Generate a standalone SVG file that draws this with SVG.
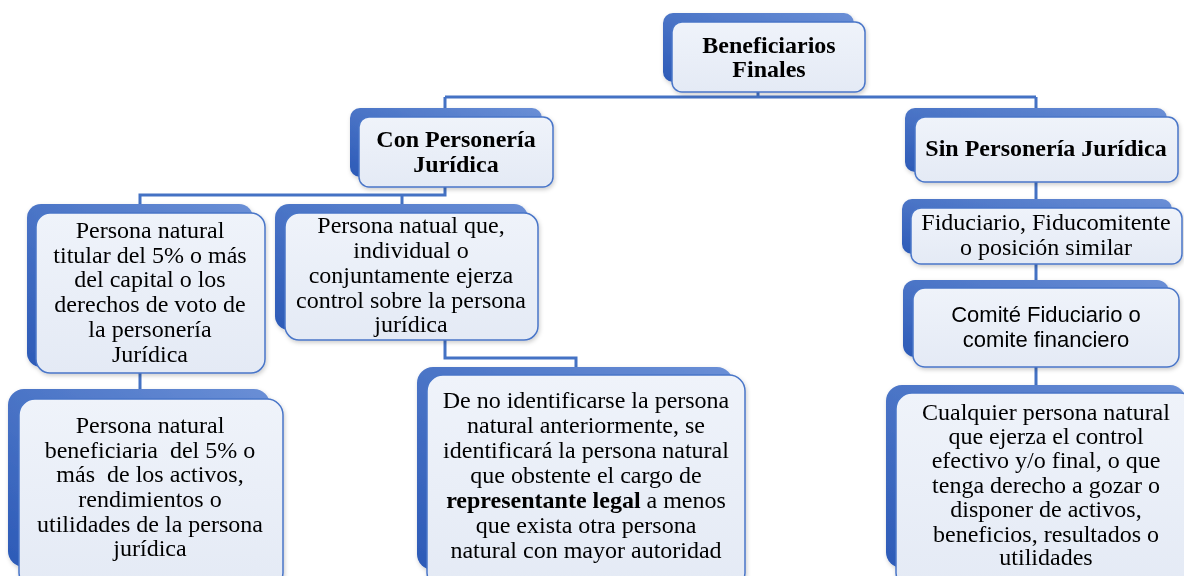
<svg xmlns="http://www.w3.org/2000/svg" width="1184" height="576" viewBox="0 0 1184 576">
<defs>
<linearGradient id="gBack" x1="1" y1="0" x2="0" y2="1">
<stop offset="0" stop-color="#6A8FD6"/>
<stop offset="1" stop-color="#2C5AB7"/>
</linearGradient>
<linearGradient id="gFront" x1="0" y1="0" x2="0" y2="1">
<stop offset="0" stop-color="#EFF3FA"/>
<stop offset="1" stop-color="#E4EAF5"/>
</linearGradient>
<filter id="sh" x="-10%" y="-10%" width="120%" height="130%">
<feDropShadow dx="1" dy="2" stdDeviation="2" flood-color="#000" flood-opacity="0.2"/>
</filter>
</defs>
<style>
.back{fill:url(#gBack);}
.front{fill:url(#gFront);stroke:#4A76C8;stroke-width:1.5;}
.conn{fill:none;stroke:#4472C4;stroke-width:3;}
.t{font-family:"Liberation Serif","Times New Roman",serif;font-size:24px;fill:#000;text-anchor:middle;}
.b{font-weight:bold;}
.s{font-family:"Liberation Sans",Arial,sans-serif;font-size:22px;fill:#000;text-anchor:middle;}
</style>
<rect width="1184" height="576" fill="#FFFFFF"/>
<g id="connectors">
<path class="conn" d="M758 90 V97 M445 97 H1036 M445 97 V110 M1036 97 V395"/>
<path class="conn" d="M445 185 V195 H140 V395 M402 195 V206"/>
<path class="conn" d="M445 338 V358 H576 V369"/>
</g>
<g id="n-beneficiarios" filter="url(#sh)">
<rect class="back" x="663" y="13" width="191" height="69" rx="10"/>
<rect class="front" x="672" y="22" width="193" height="70" rx="10"/>
<text class="t b" x="769" y="53">Beneficiarios</text>
<text class="t b" x="769" y="77">Finales</text>
</g>
<g id="n-con" filter="url(#sh)">
<rect class="back" x="350" y="108" width="192" height="69" rx="10"/>
<rect class="front" x="359" y="117" width="194" height="70" rx="10"/>
<text class="t b" x="456" y="147">Con Personería</text>
<text class="t b" x="456" y="172">Jurídica</text>
</g>
<g id="n-sin" filter="url(#sh)">
<rect class="back" x="905" y="108" width="262" height="64" rx="10"/>
<rect class="front" x="915" y="117" width="263" height="65" rx="10"/>
<text class="t b" x="1046" y="156">Sin Personería Jurídica</text>
</g>
<g id="n-titular" filter="url(#sh)">
<rect class="back" x="27" y="204" width="226" height="163" rx="14"/>
<rect class="front" x="36" y="213" width="229" height="160" rx="14"/>
<text class="t" x="150" y="238">Persona natural</text>
<text class="t" x="150" y="262.5">titular del 5% o más</text>
<text class="t" x="150" y="287">del capital o los</text>
<text class="t" x="150" y="312">derechos de voto de</text>
<text class="t" x="150" y="337">la personería</text>
<text class="t" x="150" y="362">Jurídica</text>
</g>
<g id="n-control" filter="url(#sh)">
<rect class="back" x="275" y="204" width="253" height="126" rx="14"/>
<rect class="front" x="285" y="213" width="253" height="127" rx="14"/>
<text class="t" x="411" y="233">Persona natual que,</text>
<text class="t" x="411" y="258">individual o</text>
<text class="t" x="411" y="282.5">conjuntamente ejerza</text>
<text class="t" x="411" y="307.5">control sobre la persona</text>
<text class="t" x="411" y="332">jurídica</text>
</g>
<g id="n-beneficiaria" filter="url(#sh)">
<rect class="back" x="8" y="389" width="262" height="178" rx="16"/>
<rect class="front" x="19" y="399" width="264" height="190" rx="16"/>
<text class="t" x="150" y="433" xml:space="preserve">Persona natural</text>
<text class="t" x="150" y="457.5" xml:space="preserve">beneficiaria  del 5% o</text>
<text class="t" x="150" y="482" xml:space="preserve">más  de los activos,</text>
<text class="t" x="150" y="507" xml:space="preserve">rendimientos o</text>
<text class="t" x="150" y="532" xml:space="preserve">utilidades de la persona</text>
<text class="t" x="150" y="556" xml:space="preserve">jurídica</text>
</g>
<g id="n-representante" filter="url(#sh)">
<rect class="back" x="417" y="367" width="316" height="203" rx="16"/>
<rect class="front" x="427" y="375" width="318" height="214" rx="16"/>
<text class="t" x="586" y="408">De no identificarse la persona</text>
<text class="t" x="586" y="433">natural anteriormente, se</text>
<text class="t" x="586" y="458">identificará la persona natural</text>
<text class="t" x="586" y="483">que obstente el cargo de</text>
<text class="t" x="586" y="508"><tspan class="b">representante legal</tspan> a menos</text>
<text class="t" x="586" y="533">que exista otra persona</text>
<text class="t" x="586" y="558">natural con mayor autoridad</text>
</g>
<g id="n-fiduciario" filter="url(#sh)">
<rect class="back" x="902" y="199" width="270" height="55" rx="10"/>
<rect class="front" x="911" y="208" width="271" height="56" rx="10"/>
<text class="t" x="1046" y="230">Fiduciario, Fiducomitente</text>
<text class="t" x="1046" y="255">o posición similar</text>
</g>
<g id="n-comite" filter="url(#sh)">
<rect class="back" x="903" y="280" width="266" height="77" rx="12"/>
<rect class="front" x="913" y="288" width="266" height="79" rx="12"/>
<text class="s" x="1046" y="322">Comité Fiduciario o</text>
<text class="s" x="1046" y="347">comite financiero</text>
</g>
<g id="n-cualquier" filter="url(#sh)">
<rect class="back" x="886" y="385" width="300" height="183" rx="16"/>
<rect class="front" x="896" y="393" width="300" height="196" rx="16"/>
<text class="t" x="1046" y="420">Cualquier persona natural</text>
<text class="t" x="1046" y="444">que ejerza el control</text>
<text class="t" x="1046" y="468">efectivo y/o final, o que</text>
<text class="t" x="1046" y="492.5">tenga derecho a gozar o</text>
<text class="t" x="1046" y="517">disponer de activos,</text>
<text class="t" x="1046" y="541.5">beneficios, resultados o</text>
<text class="t" x="1046" y="565">utilidades</text>
</g>
</svg>
